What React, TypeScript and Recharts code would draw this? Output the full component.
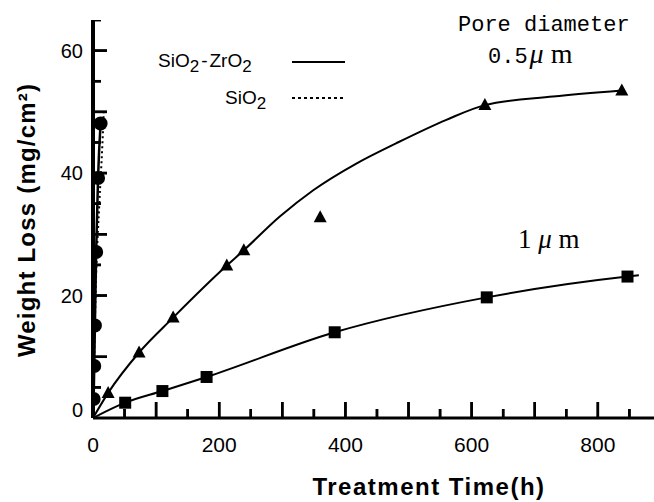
import React from 'react';
import { ComposedChart, Line, Scatter, XAxis, YAxis, Customized } from 'recharts';

// ---- axis ticks ----
const xTicks = [0, 50, 100, 150, 200, 250, 300, 350, 400, 450, 500, 550, 600, 650, 700, 750, 800, 850];
const xLabels = [0, 200, 400, 600, 800];
const yTicks = [0, 5, 10, 15, 20, 25, 30, 35, 40, 45, 50, 55, 60, 65];
const yLabels = [0, 20, 40, 60];

// ---- SiO2 (circles, near-vertical rise) ----
const sio2Points = [
  { x: 1, y: 3.1 },
  { x: 2, y: 8.5 },
  { x: 3, y: 15.1 },
  { x: 5, y: 27.1 },
  { x: 8, y: 39.2 },
  { x: 12, y: 48.1 },
];
const sio2SolidCurve = [
  { x: 0, y: 0 },
  { x: 1, y: 3.1 },
  { x: 2, y: 8.5 },
  { x: 3, y: 15.1 },
  { x: 5, y: 27.1 },
  { x: 8, y: 39.2 },
  { x: 12, y: 48.1 },
];
const sio2DottedCurve = [
  { x: 0, y: 0 },
  { x: 4, y: 20 },
  { x: 10, y: 35 },
  { x: 15, y: 45 },
  { x: 17, y: 50 },
];

// ---- pore diameter 0.5 um (triangles) ----
const pore05Points = [
  { x: 24, y: 4.1 },
  { x: 73, y: 10.7 },
  { x: 127, y: 16.4 },
  { x: 212, y: 24.9 },
  { x: 239, y: 27.4 },
  { x: 621, y: 51.1 },
  { x: 838, y: 53.5 },
];
const pore05Outlier = [{ x: 360, y: 32.8 }];
const pore05Curve = [
  { x: 0, y: 0 },
  { x: 24, y: 4.1 },
  { x: 73, y: 10.7 },
  { x: 127, y: 16.4 },
  { x: 212, y: 24.9 },
  { x: 239, y: 27.4 },
  { x: 296, y: 32.9 },
  { x: 349, y: 37.2 },
  { x: 418, y: 41.6 },
  { x: 481, y: 44.9 },
  { x: 560, y: 48.7 },
  { x: 621, y: 51.1 },
  { x: 729, y: 52.5 },
  { x: 838, y: 53.5 },
];

// ---- pore diameter 1 um (squares) ----
const pore1Points = [
  { x: 51, y: 2.5 },
  { x: 110, y: 4.4 },
  { x: 180, y: 6.7 },
  { x: 383, y: 14.0 },
  { x: 624, y: 19.7 },
  { x: 847, y: 23.1 },
];
const pore1Curve = [
  { x: 0, y: 0 },
  { x: 51, y: 2.5 },
  { x: 110, y: 4.4 },
  { x: 180, y: 6.7 },
  { x: 383, y: 14.0 },
  { x: 624, y: 19.7 },
  { x: 847, y: 23.1 },
  { x: 865, y: 23.3 },
];

const INK = '#000';
const X_DOMAIN: [number, number] = [0, 889];
const Y_DOMAIN: [number, number] = [0, 65];

// inward tick marks, positioned through the chart's own scales
const xTickMarks = xTicks.filter((v) => v > 0).map((v) => ({ x: v, y: 0, major: v % 100 === 0 }));
const yTickMarks = yTicks.filter((v) => v > 0).map((v) => ({ x: 0, y: v, major: v % 10 === 0 }));

const XTickMark = (props: any) => {
  const { cx, cy, payload } = props;
  if (cx == null || cy == null) return <g />;
  const len = payload && payload.major ? 16 : 9;
  return <rect x={cx - 1.25} y={cy - len} width={2.5} height={len} fill={INK} />;
};
const YTickMark = (props: any) => {
  const { cx, cy, payload } = props;
  if (cx == null || cy == null) return <g />;
  const len = payload && payload.major ? 14 : 8;
  return <rect x={cx} y={cy - 1.25} width={len} height={2.5} fill={INK} />;
};

const Triangle = (props: any) => {
  const { cx, cy } = props;
  if (cx == null || cy == null) return null;
  return <polygon points={`${cx},${cy - 7} ${cx - 6.5},${cy + 5} ${cx + 6.5},${cy + 5}`} fill={INK} />;
};
const Square = (props: any) => {
  const { cx, cy } = props;
  if (cx == null || cy == null) return null;
  return <rect x={cx - 6} y={cy - 6} width={12} height={12} fill={INK} />;
};
const Dot = (props: any) => {
  const { cx, cy } = props;
  if (cx == null || cy == null) return null;
  return <circle cx={cx} cy={cy} r={7} fill={INK} />;
};

const XLabel = (props: any) => {
  const { x, y, payload } = props;
  const v = payload.value;
  if (!xLabels.includes(v)) return <g />;
  return (
    <text x={Number(x)} y={Number(y) + 34} textAnchor="middle" fontSize={21} fontFamily="Liberation Sans" fill={INK}>
      {v}
    </text>
  );
};

const YLabel = (props: any) => {
  const { x, y, payload } = props;
  const v = payload.value;
  if (!yLabels.includes(v)) return <g />;
  return (
    <text x={Number(x) - 10} y={v === 0 ? Number(y) - 1 : Number(y) + 7} textAnchor="end" fontSize={20} fontFamily="Liberation Sans" fill={INK}>
      {v}
    </text>
  );
};

const Annotations = () => (
  <g>
    <text
      transform="translate(35,220) rotate(-90)"
      textAnchor="middle"
      fontSize={24}
      fontWeight="bold"
      fontFamily="Liberation Sans"
      letterSpacing={1.2}
      fill={INK}
    >
      Weight Loss (mg/cm²)
    </text>
    <text x={429} y={495} textAnchor="middle" fontSize={24} fontWeight="bold" fontFamily="Liberation Sans" letterSpacing={1.5} fill={INK}>
      Treatment Time(h)
    </text>
    <text x={158} y={67} fontSize={19} fontFamily="Liberation Sans" fill={INK}>
      SiO<tspan dy={5} fontSize={17}>2</tspan>
      <tspan dy={-5} dx={2}>-</tspan>
      <tspan dx={2}>ZrO</tspan>
      <tspan dy={5} fontSize={17}>2</tspan>
    </text>
    <line x1={292} x2={345} y1={62} y2={62} stroke={INK} strokeWidth={2} />
    <text x={225} y={104} fontSize={19} fontFamily="Liberation Sans" fill={INK}>
      SiO<tspan dy={5} fontSize={17}>2</tspan>
    </text>
    <line x1={292} x2={345} y1={98} y2={98} stroke={INK} strokeWidth={2} strokeDasharray="3 3" />
    <text x={458} y={31} fontSize={22} fontFamily="Liberation Mono" fill={INK}>
      Pore diameter
    </text>
    <text x={488} y={63} fontSize={22} fontFamily="Liberation Mono" fill={INK}>
      0.5<tspan dx={2} fontFamily="Liberation Serif" fontSize={28} fontStyle="italic">μ</tspan>
      <tspan fontFamily="Liberation Serif" fontSize={28}> m</tspan>
    </text>
    <text x={518} y={248} fontSize={27} fontFamily="Liberation Serif" fill={INK}>
      1 <tspan fontStyle="italic">μ</tspan> m
    </text>
  </g>
);

export default function App() {
  return (
    <div style={{ position: 'absolute', left: 0, top: 0, width: 654, height: 502, background: '#fff' }}>
      <ComposedChart width={654} height={502} margin={{ top: 20, right: 0, bottom: 0, left: 0 }}>
        <XAxis
          type="number"
          dataKey="x"
          domain={X_DOMAIN}
          ticks={xTicks}
          interval={0}
          allowDataOverflow
          height={84}
          tickLine={false}
          tick={<XLabel />}
          tickMargin={0}
          tickSize={0}
          axisLine={{ stroke: INK, strokeWidth: 3 }}
        />
        <YAxis
          type="number"
          dataKey="y"
          domain={Y_DOMAIN}
          ticks={yTicks}
          interval={0}
          allowDataOverflow
          width={93}
          tickLine={false}
          tick={<YLabel />}
          tickMargin={0}
          tickSize={0}
          axisLine={{ stroke: INK, strokeWidth: 4 }}
        />
        <Scatter data={xTickMarks} dataKey="y" shape={<XTickMark />} isAnimationActive={false} />
        <Scatter data={yTickMarks} dataKey="y" shape={<YTickMark />} isAnimationActive={false} />
        <Line data={xTickMarks} dataKey="y" stroke="none" dot={<XTickMark />} activeDot={false} isAnimationActive={false} />
        <Line data={yTickMarks} dataKey="y" stroke="none" dot={<YTickMark />} activeDot={false} isAnimationActive={false} />
        <Scatter data={sio2Points} dataKey="y" shape={<Dot />} isAnimationActive={false} />
        <Scatter data={pore05Points} dataKey="y" shape={<Triangle />} isAnimationActive={false} />
        <Scatter data={pore05Outlier} dataKey="y" shape={<Triangle />} isAnimationActive={false} />
        <Scatter data={pore1Points} dataKey="y" shape={<Square />} isAnimationActive={false} />
        <Line data={sio2SolidCurve} dataKey="y" type="monotone" stroke={INK} strokeWidth={2.5} dot={false} isAnimationActive={false} />
        <Line data={sio2DottedCurve} dataKey="y" type="monotone" stroke={INK} strokeWidth={2} strokeDasharray="2 3" dot={false} isAnimationActive={false} />
        <Line data={pore05Curve} dataKey="y" type="monotone" stroke={INK} strokeWidth={2} dot={false} isAnimationActive={false} />
        <Line data={pore1Curve} dataKey="y" type="monotone" stroke={INK} strokeWidth={2} dot={false} isAnimationActive={false} />
        <Customized component={Annotations} />
      </ComposedChart>
    </div>
  );
}
